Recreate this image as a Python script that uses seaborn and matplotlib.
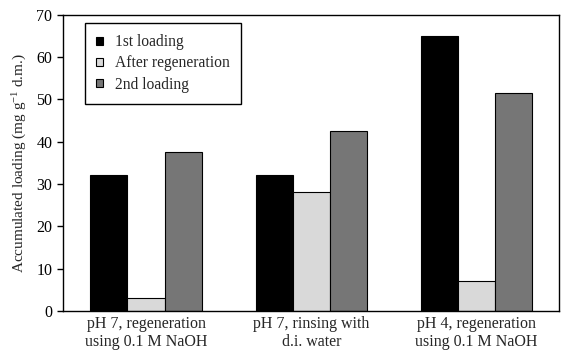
import matplotlib
matplotlib.use("Agg")
import matplotlib.pyplot as plt
import seaborn as sns
import pandas as pd

categories = ["pH 7, regeneration\nusing 0.1 M NaOH",
              "pH 7, rinsing with\nd.i. water",
              "pH 4, regeneration\nusing 0.1 M NaOH"]
series = ["1st loading", "After regeneration", "2nd loading"]
first_loading = [32, 32, 65]
after_regen = [3, 28, 7]
second_loading = [37.5, 42.5, 51.5]
colors = ["#000000", "#d9d9d9", "#767676"]

rows = []
for name, vals in zip(series, [first_loading, after_regen, second_loading]):
    for c, v in zip(categories, vals):
        rows.append({"cat": c, "series": name, "value": v})
df = pd.DataFrame(rows)

sns.set_theme(style="ticks")
plt.rcParams["font.family"] = ["Liberation Serif", "DejaVu Serif"]
plt.rcParams["mathtext.fontset"] = "custom"
plt.rcParams["mathtext.rm"] = "Liberation Serif"
plt.rcParams["mathtext.it"] = "Liberation Serif:italic"

fig = plt.figure(figsize=(5.61, 3.52), dpi=100)
ax = fig.add_axes([0.113, 0.117, 0.884, 0.841])
sns.barplot(data=df, x="cat", y="value", hue="series", palette=colors,
            hue_order=series, order=categories, width=0.675, gap=0,
            edgecolor="black", linewidth=0.8, ax=ax, legend=True)

ax.set_xlim(-0.5, 2.5)
ax.set_ylim(0, 70)
ax.set_yticks(range(0, 71, 10))
ax.set_xlabel("")
ax.set_ylabel("Accumulated loading (mg g$^{-1}$ d.m.)", fontsize=11, labelpad=5)
ax.tick_params(axis="y", direction="out", length=4, width=1, labelsize=11.5,
               colors="black", pad=4)
ax.tick_params(axis="x", length=0, labelsize=11.5, pad=4)
for lbl in ax.get_xticklabels():
    lbl.set_linespacing(1.15)
for s in ax.spines.values():
    s.set_visible(True)
    s.set_color("black")
    s.set_linewidth(1)

leg = ax.legend(loc="upper left", bbox_to_anchor=(0.043, 0.972), fontsize=11.2,
                frameon=True, fancybox=False, edgecolor="black",
                handlelength=0.45, handleheight=0.45, handletextpad=0.8,
                borderpad=0.72, labelspacing=0.33, borderaxespad=0)
leg.get_frame().set_linewidth(1)
leg.get_frame().set_alpha(1)

fig.savefig("out.png", dpi=100)
